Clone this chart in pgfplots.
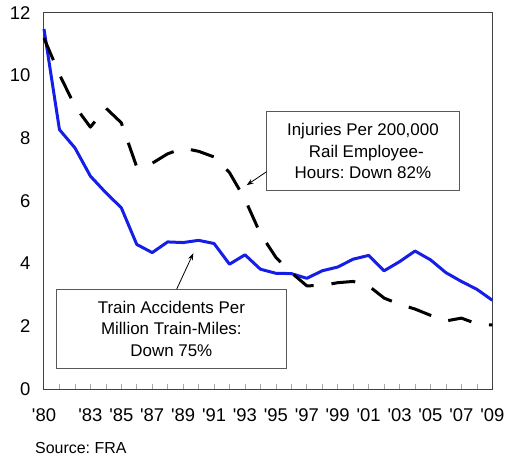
\documentclass[border=0pt]{standalone}
\usepackage{pgfplots}
\pgfplotsset{compat=1.18}
\usepackage{pgfplotstable}
\usepackage{fontspec}
\setmainfont{Liberation Sans}
\frenchspacing
\usetikzlibrary{arrows.meta}
\definecolor{blueline}{RGB}{20,30,230}
\pgfplotstableread{
year val
1980 11.48
1981 8.27
1982 7.69
1983 6.79
1984 6.26
1985 5.78
1986 4.61
1987 4.35
1988 4.69
1989 4.67
1990 4.74
1991 4.64
1992 3.98
1993 4.28
1994 3.82
1995 3.69
1996 3.68
1997 3.53
1998 3.77
1999 3.89
2000 4.14
2001 4.26
2002 3.77
2003 4.06
2004 4.40
2005 4.12
2006 3.71
2007 3.43
2008 3.18
2009 2.83
}\accidents
\pgfplotstableread{
year val
1980 11.19
1981 10.03
1982 9.02
1983 8.35
1984 8.96
1985 8.49
1986 7.08
1987 7.20
1988 7.50
1989 7.68
1990 7.58
1991 7.40
1992 6.90
1993 6.05
1994 4.95
1995 4.20
1996 3.71
1997 3.29
1998 3.30
1999 3.39
2000 3.43
2001 3.29
2002 2.90
2003 2.70
2004 2.55
2005 2.35
2006 2.17
2007 2.26
2008 2.08
2009 2.04
}\injuries
\begin{document}
\frenchspacing
\begin{tikzpicture}
\path[use as bounding box] (-44bp,-70bp) rectangle (463bp,389bp);
\begin{axis}[
  at={(0,0)}, anchor=south west,
  scale only axis, width=448.3bp, height=376.3bp,
  xmin=1980, xmax=2009, ymin=0, ymax=12,
  axis line style={draw=black!75, line width=1bp},
  xtick={1980,1983,1985,1987,1989,1991,1993,1995,1997,1999,2001,2003,2005,2007,2009},
  xticklabels={\textquotesingle80,\textquotesingle83,\textquotesingle85,\textquotesingle87,\textquotesingle89,\textquotesingle91,\textquotesingle93,\textquotesingle95,\textquotesingle97,\textquotesingle99,\textquotesingle01,\textquotesingle03,\textquotesingle05,\textquotesingle07,\textquotesingle09},
  minor xtick={1981,1982,...,2008},
  ytick={0,2,4,6,8,10,12},
  major tick length=0pt, minor tick length=5bp,
  tick pos=left,
  ytick style={draw=none},
  minor x tick style={draw=black!35, line width=0.6bp},
  tick label style={font=\fontsize{18.5}{20}\selectfont},
  /pgf/number format/assume math mode=true,
  yticklabel style={xshift=-10bp},
  xticklabel style={yshift=-16bp},
  clip=false,
]
\addplot[blueline, line width=3bp, line join=round] table[x=year,y=val] {\accidents};
\addplot[black, line width=3bp, dash pattern=on 24bp off 18bp, line join=round] table[x=year,y=val] {\injuries};
\node[draw=black!65, line width=1bp, minimum width=192.6bp, minimum height=79bp, align=center,
  font=\fontsize{17}{21.7}\selectfont, inner sep=0pt] at (axis cs:2000.63,7.58)
  {Injuries Per 200,000\\\hspace*{0.4em}Rail Employee-\\Hours: Down 82\%};
\node[draw=black!65, line width=1bp, minimum width=230.7bp, minimum height=79bp, align=center,
  font=\fontsize{17}{21.7}\selectfont, inner sep=0pt] at (axis cs:1988.24,1.92)
  {Train Accidents Per\\Million Train-Miles:\\Down 75\%};
\draw[-{Stealth[length=7bp,width=5bp]}, line width=0.8bp] (axis cs:1994.40,6.93) -- (axis cs:1993.11,6.50);
\draw[-{Stealth[length=7bp,width=5bp]}, line width=0.8bp] (axis cs:1988.58,3.18) -- (axis cs:1989.66,4.33);
\end{axis}
\node[anchor=west, inner sep=0pt, font=\fontsize{16}{18}\selectfont] at (-9bp,-59bp) {Source: FRA};
\end{tikzpicture}
\end{document}
